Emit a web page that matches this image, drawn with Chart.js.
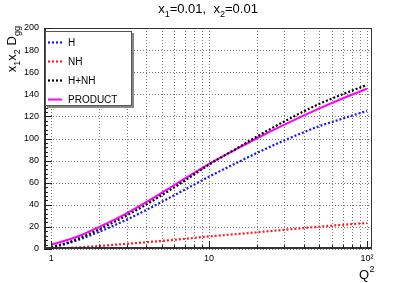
<!DOCTYPE html>
<html><head><meta charset="utf-8">
<script src="https://cdn.jsdelivr.net/npm/chart.js@4/dist/chart.umd.min.js"></script>
<style>html,body{margin:0;padding:0;background:#fff;}canvas{display:block;}</style>
</head><body>
<canvas id="c" width="415" height="283"></canvas>
<script>
// ---- data ----
const q2Values      = [1, 1.25, 1.5, 2, 2.5, 3, 4, 5, 7, 10, 15, 20, 30, 50, 70, 100];
const hValues       = [1.5, 4.8, 8.5, 15.4, 21.3, 26.5, 35.3, 42.6, 53.6, 65.5, 78, 86.8, 98.3, 111.2, 118, 125];
const nhValues      = [0.2, 0.8, 1.5, 2.7, 3.8, 4.7, 6.1, 7.3, 9.2, 11.4, 13.5, 15.1, 17.4, 20.2, 21.9, 23.5];
const sumValues     = [1.7, 5.4, 9.6, 17.6, 24.4, 30.3, 40.2, 48.6, 61.8, 76.4, 91.1, 101.6, 115.5, 131.4, 140, 148.5];
const productValues = [4, 7.9, 11.8, 19.8, 26.3, 32.2, 42.4, 50.8, 63.6, 77, 90.6, 100, 112.5, 127.2, 136.2, 145];
const xTickValues   = [1,2,3,4,5,6,7,8,9,10,20,30,40,50,60,70,80,90,100];
const xTickLabels   = {1:'1', 10:'10', 100:'10\u00B2'};
const yTickValues   = [0,20,40,60,80,100,120,140,160,180,200];
const seriesNames   = ['H','NH','H+NH','PRODUCT'];

const FONT = '"Liberation Sans", Arial, Helvetica, sans-serif';
const pts = vals => q2Values.map((q,i)=>({x:q, y:vals[i]}));

function subText(ctx, parts, x, y, size) {
  let cx = x;
  for (const [t, sub] of parts) {
    if (sub) {
      ctx.font = (size*0.7).toFixed(1) + 'px ' + FONT;
      ctx.fillText(t, cx, y + size*0.28);
    } else {
      ctx.font = size + 'px ' + FONT;
      ctx.fillText(t, cx, y);
    }
    cx += ctx.measureText(t).width;
  }
  return cx - x;
}
function measureParts(ctx, parts, size) {
  let w = 0;
  for (const [t, sub] of parts) {
    ctx.font = (sub ? (size*0.7).toFixed(1) : size) + 'px ' + FONT;
    w += ctx.measureText(t).width;
  }
  return w;
}

const decor = {
  id: 'decor',
  beforeDatasetsDraw(chart) {
    const {ctx, chartArea: a, scales: {x, y}} = chart;
    ctx.save();
    ctx.strokeStyle = '#777';
    ctx.lineWidth = 1;
    ctx.setLineDash([1, 2]);
    for (const v of xTickValues) {
      const px = Math.round(x.getPixelForValue(v)) + 0.5;
      ctx.beginPath(); ctx.moveTo(px, a.top); ctx.lineTo(px, a.bottom); ctx.stroke();
    }
    for (const v of yTickValues) {
      const py = Math.round(y.getPixelForValue(v)) + 0.5;
      ctx.beginPath(); ctx.moveTo(a.left, py); ctx.lineTo(a.right, py); ctx.stroke();
    }
    ctx.restore();
  },
  afterDatasetsDraw(chart) {
    const {ctx, chartArea: a, scales: {x, y}} = chart;
    ctx.save();
    ctx.setLineDash([]);
    ctx.strokeStyle = '#333';
    ctx.lineWidth = 1;
    ctx.strokeRect(a.left + 0.5, a.top + 0.5, a.right - a.left - 1, a.bottom - a.top - 1);
    ctx.lineWidth = 2;
    ctx.beginPath(); ctx.moveTo(a.left + 1, a.top); ctx.lineTo(a.left + 1, a.bottom); ctx.stroke();
    ctx.beginPath(); ctx.moveTo(a.left, a.bottom - 1); ctx.lineTo(a.right, a.bottom - 1); ctx.stroke();
    ctx.lineWidth = 1;
    ctx.strokeStyle = '#222';
    for (let v = 0; v <= 200; v += 4) {
      const py = Math.round(y.getPixelForValue(v)) + 0.5;
      const len = (v % 20 === 0) ? 8 : 4;
      ctx.beginPath(); ctx.moveTo(a.left, py); ctx.lineTo(a.left + len, py); ctx.stroke();
    }
    for (const v of xTickValues) {
      const px = Math.round(x.getPixelForValue(v)) + 0.5;
      const len = (v === 1 || v === 10 || v === 100) ? 8 : 4;
      ctx.beginPath(); ctx.moveTo(px, a.bottom); ctx.lineTo(px, a.bottom - len); ctx.stroke();
    }
    // legend
    const lx = 45, ly = 31, lw = 87, lh = 75;
    ctx.fillStyle = '#888';
    ctx.fillRect(lx + 2, ly + 2, lw, lh);
    ctx.fillStyle = '#fff';
    ctx.fillRect(lx, ly, lw, lh);
    ctx.strokeStyle = '#555';
    ctx.strokeRect(lx + 0.5, ly + 0.5, lw - 1, lh - 1);
    const ds = chart.data.datasets;
    const rowsY = [41.5, 61, 80, 98.5];
    ctx.font = '10px ' + FONT;
    ctx.textBaseline = 'middle';
    [0,1,2,3].forEach((di, k) => {
      const d = ds[di];
      const yy = Math.round(rowsY[k]) + 0.5;
      ctx.strokeStyle = d.borderColor;
      ctx.lineWidth = d.borderWidth;
      ctx.setLineDash(d.borderDash || []);
      ctx.beginPath(); ctx.moveTo(48, yy); ctx.lineTo(62, yy); ctx.stroke();
      ctx.setLineDash([]);
      ctx.fillStyle = '#000';
      ctx.fillText(d.label, 68, yy + 0.5);
    });
    // title
    ctx.textBaseline = 'alphabetic';
    ctx.fillStyle = '#000';
    const tParts = [['x',false],['1',true],['=0.01,  x',false],['2',true],['=0.01',false]];
    const tw = measureParts(ctx, tParts, 13);
    subText(ctx, tParts, 208 - tw/2, 13, 13);
    // x axis title
    ctx.font = '13px ' + FONT;
    const qw = ctx.measureText('Q').width;
    ctx.fillText('Q', 359, 279);
    ctx.font = '9px ' + FONT;
    ctx.fillText('2', 359 + qw + 0.5, 272);
    // y axis title (rotated)
    ctx.translate(16, 0);
    ctx.rotate(-Math.PI/2);
    const yParts = [['x',false],['1',true],['x',false],['2',true],[' D',false],['gg',true]];
    const yw = measureParts(ctx, yParts, 13);
    subText(ctx, yParts, -26 - yw, 0, 13);
    ctx.restore();
  }
};

new Chart(document.getElementById('c'), {
  type: 'line',
  data: {
    datasets: [
      {label: seriesNames[0], data: pts(hValues), borderColor: '#1414ff', borderWidth: 2.2, borderDash: [2,2], order: 3},
      {label: seriesNames[1], data: pts(nhValues), borderColor: '#ff1a1a', borderWidth: 2.2, borderDash: [2,2], order: 2},
      {label: seriesNames[2], data: pts(sumValues), borderColor: '#000000', borderWidth: 2.2, borderDash: [2,2], order: 1},
      {label: seriesNames[3], data: pts(productValues), borderColor: '#ff00ff', borderWidth: 2, order: 4}
    ]
  },
  options: {
    responsive: false,
    animation: false,
    devicePixelRatio: 1,
    elements: {point: {radius: 0}, line: {cubicInterpolationMode: 'monotone', fill: false}},
    layout: {padding: {left: 0, top: 28, right: 43, bottom: 0}},
    plugins: {legend: {display: false}, title: {display: false}, tooltip: {enabled: false}},
    scales: {
      x: {
        type: 'logarithmic', min: 0.9, max: 107.6,
        afterBuildTicks: s => { s.ticks = xTickValues.map(v => ({value: v})); },
        afterFit: s => { s.height = 34; },
        grid: {display: false, drawTicks: false},
        border: {display: false},
        ticks: {
          autoSkip: false, maxRotation: 0, minRotation: 0, padding: 4,
          color: '#000', font: {family: FONT, size: 9},
          callback: (v) => xTickLabels[v] || ''
        }
      },
      y: {
        type: 'linear', min: 0, max: 200,
        afterBuildTicks: s => { s.ticks = yTickValues.map(v => ({value: v})); },
        afterFit: s => { s.width = 44; },
        grid: {display: false, drawTicks: false},
        border: {display: false},
        ticks: {padding: 5, color: '#000', font: {family: FONT, size: 9}}
      }
    }
  },
  plugins: [decor]
});
</script>
</body></html>
